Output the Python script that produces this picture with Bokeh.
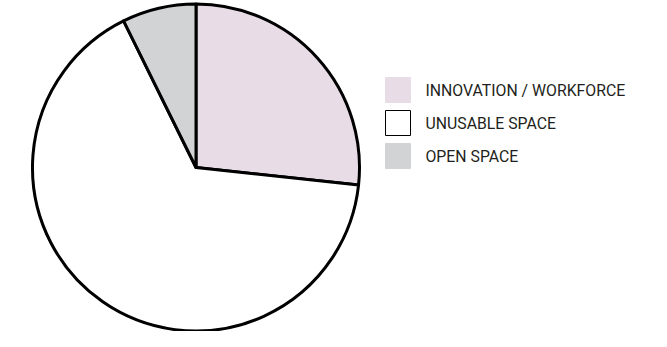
import math
from bokeh.plotting import figure
from bokeh.models import Range1d, ColumnDataSource
from bokeh.core.properties import value
from bokeh.embed import file_html
from bokeh.resources import INLINE

# ---- data ----
categories = ["INNOVATION / WORKFORCE", "UNUSABLE SPACE", "OPEN SPACE"]
shares = [26.7, 66.0, 7.3]
colors = ["#E8DCE7", "#FFFFFF", "#D1D3D4"]
legend_outline = ["#E8DCE7", "#000000", "#D1D3D4"]

W, H = 651, 331
p = figure(width=W, height=H, output_backend="svg", toolbar_location=None,
           x_range=Range1d(0, W), y_range=Range1d(0, H), min_border=0,
           tools="")
p.axis.visible = False
p.grid.visible = False
p.outline_line_color = None
p.background_fill_color = "white"
p.border_fill_color = "white"

# screen coords (y down) -> data coords
def px(x):
    return x
def py(y):
    return H - y

cx, cy, r = px(195.5), py(167), 163.5

# slices go clockwise from 12 o'clock
total = sum(shares)
starts, ends = [], []
a = math.pi / 2
for s in shares:
    sweep = 2 * math.pi * s / total
    ends.append(a)
    starts.append(a - sweep)
    a -= sweep

src = ColumnDataSource(dict(start=starts, end=ends, color=colors,
                            x=[cx] * 3, y=[cy] * 3))
p.wedge(x="x", y="y", radius=r, start_angle="start", end_angle="end",
        fill_color="color", line_color="black", line_width=3,
        line_join="round", source=src)

# legend
rows_y = [89.5, 122.5, 155.5]
lsrc = ColumnDataSource(dict(x=[px(397.5)] * 3, y=[py(v) for v in rows_y],
                             color=colors, lc=legend_outline,
                             tx=[px(425)] * 3, label=categories))
p.rect(x="x", y="y", width=25, height=25, fill_color="color",
       line_color="lc", line_width=1, source=lsrc)
p.text(x="tx", y="y", text="label", text_font=value("Roboto"),
       text_font_size="15.8px", text_color="#231F20", text_baseline="middle",
       text_align="left", source=lsrc)

open("out.html", "w").write(file_html(p, INLINE))
